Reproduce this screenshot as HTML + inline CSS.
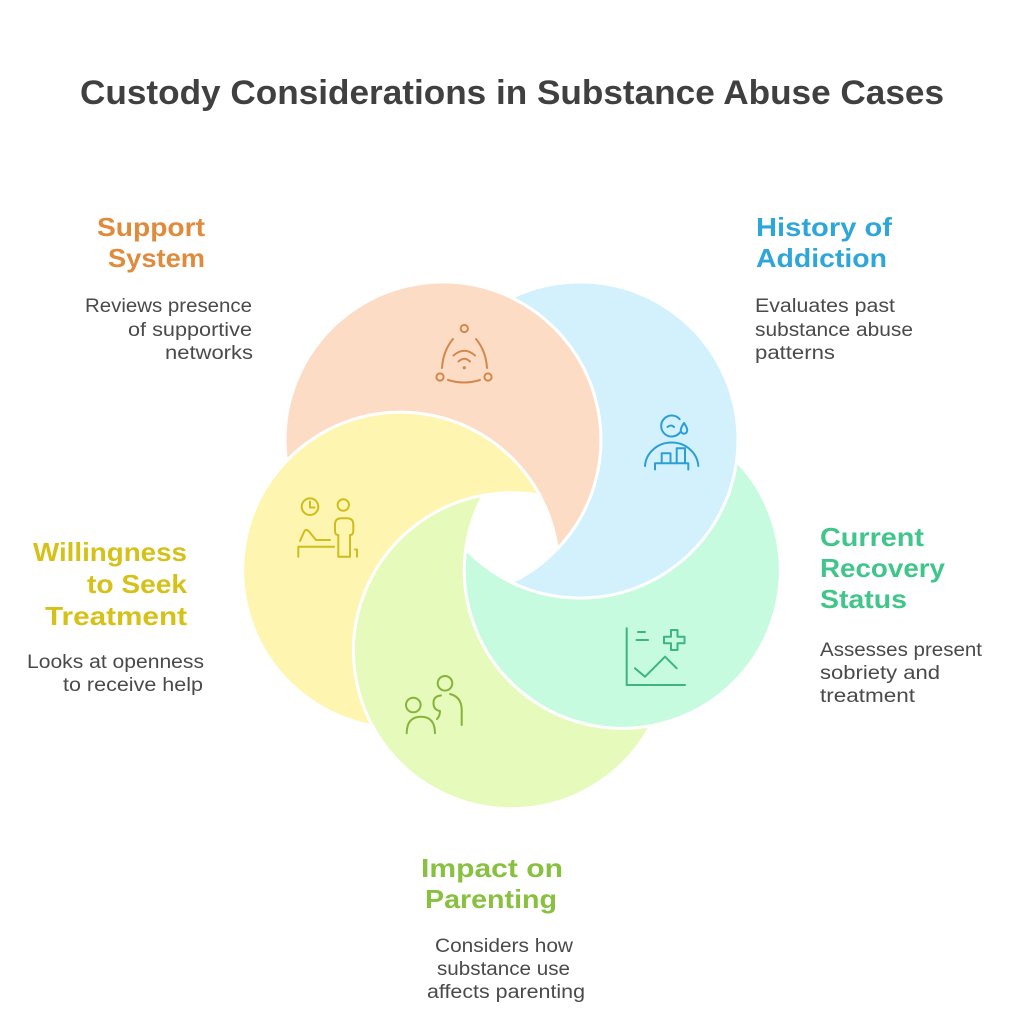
<!DOCTYPE html>
<html>
<head>
<meta charset="utf-8">
<style>
  html,body{margin:0;padding:0;background:#ffffff;}
  svg{display:block;}
  .t{font-family:"Liberation Sans",sans-serif;}
  .h{font-family:"Liberation Sans",sans-serif;font-weight:bold;font-size:26px;}
  .d{font-family:"Liberation Sans",sans-serif;font-size:19px;fill:#4a4a4a;}
  .ic{fill:none;stroke-width:2;stroke-linecap:round;stroke-linejoin:round;}
</style>
</head>
<body>
<svg width="1024" height="1024" viewBox="0 0 1024 1024" xmlns="http://www.w3.org/2000/svg">
  <rect width="1024" height="1024" fill="#ffffff"/>

  <!-- Title -->
  <text class="t" x="80" y="104" font-size="34" font-weight="bold" fill="#404040" textLength="864" lengthAdjust="spacingAndGlyphs">Custody Considerations in Substance Abuse Cases</text>

  <!-- Crescents -->
  <g stroke="#ffffff" stroke-width="3" stroke-linejoin="round">
    <!-- peach -->
    <path fill="#fddcc6" d="M 286.45 461.13 A 158 158 0 1 1 557.27 549.12 A 158 158 0 0 0 286.45 461.13 Z"/>
    <!-- yellow -->
    <path fill="#fef5b1" transform="rotate(-72 511.5 534.25)" d="M 286.45 461.13 A 158 158 0 1 1 557.27 549.12 A 158 158 0 0 0 286.45 461.13 Z"/>
    <!-- lime -->
    <path fill="#e6fabb" transform="rotate(-144 511.5 534.25)" d="M 286.45 461.13 A 158 158 0 1 1 557.27 549.12 A 158 158 0 0 0 286.45 461.13 Z"/>
    <!-- mint -->
    <path fill="#c6fbe0" transform="rotate(-216 511.5 534.25)" d="M 286.45 461.13 A 158 158 0 1 1 557.27 549.12 A 158 158 0 0 0 286.45 461.13 Z"/>
    <!-- blue -->
    <path fill="#d2f1fd" transform="rotate(-288 511.5 534.25)" d="M 286.45 461.13 A 158 158 0 1 1 557.27 549.12 A 158 158 0 0 0 286.45 461.13 Z"/>
  </g>

  <!-- Peach icon: support network -->
  <g class="ic" stroke="#d4874a">
    <circle cx="464.3" cy="328.5" r="3.6"/>
    <circle cx="440" cy="377" r="3.6"/>
    <circle cx="488" cy="377" r="3.6"/>
    <path d="M 453 339 Q 443 351 442 368"/>
    <path d="M 476 339 Q 486 351 487 368"/>
    <path d="M 448 380 Q 464 385 480 380"/>
    <path d="M 458.5 361.5 Q 464.3 356 470 361.5"/>
    <path d="M 453.5 355.5 Q 464.3 346 475 355.5"/>
  </g>
  <circle cx="464.3" cy="367.7" r="1.6" fill="#d4874a"/>

  <!-- Blue icon: history of addiction -->
  <g class="ic" stroke="#2b9fd5">
    <path d="M 679.7 419.25 A 10.5 10.5 0 1 0 680.3 432"/>
    <path d="M 667.5 427 Q 671 424 674 427"/>
    <path d="M 684 423 Q 680.5 428 680.8 430.5 A 3.2 3.2 0 0 0 687.2 430.5 Q 687.5 428 684 423 Z"/>
    <path d="M 645 466 A 26.7 25 0 0 1 698.3 466"/>
    <path d="M 655 469.5 V 463.3 H 688.3 V 469.5"/>
    <path d="M 661.7 463.3 V 453.3 H 670.5 V 463.3"/>
    <path d="M 676.7 463.3 V 448.3 H 685 V 463.3"/>
  </g>

  <!-- Yellow icon: therapy -->
  <g class="ic" stroke="#cfbd1e">
    <circle cx="310" cy="506.7" r="8.3"/>
    <path d="M 310 501.5 V 507.5 H 314.5"/>
    <circle cx="343.3" cy="505" r="5.7"/>
    <path d="M 338.3 556.7 V 535 Q 335 535 335 531 V 524.5 Q 335 518.3 341.5 518.3 H 347 Q 353.3 518.3 353.3 524.5 V 531 Q 353.3 535 350 535 V 556.7 Z"/>
    <path d="M 298.3 556.7 V 546.7 H 334"/>
    <path d="M 355 549.5 H 357 V 556.7"/>
    <path d="M 300 541 L 304 532 Q 306 528 309 531.5 L 316 540 H 330"/>
  </g>

  <!-- Mint icon: recovery chart -->
  <g class="ic" stroke="#3db583">
    <path d="M 626.7 628.3 V 685 H 685"/>
    <path d="M 638 632 H 645"/>
    <path d="M 636.5 640 H 648"/>
    <path d="M 671 630 H 677.5 V 636.7 H 684.5 V 643.3 H 677.5 V 650 H 671 V 643.3 H 664 V 636.7 H 671 Z"/>
    <path d="M 635 668.3 L 645 676.7 L 665 656.7 L 676.7 668.3"/>
  </g>

  <!-- Lime icon: parenting -->
  <g class="ic" stroke="#86b43a">
    <circle cx="445" cy="683.3" r="7.3"/>
    <path d="M 450 694 Q 461.7 697 461.7 710 V 725"/>
    <path d="M 441 695.5 Q 433.5 696 433.5 703 Q 433.5 710 440 711 Q 440 716 437 719"/>
    <circle cx="413.3" cy="705" r="7.3"/>
    <path d="M 406.7 733.3 Q 406.7 716.7 421 716.7 Q 435 716.7 435 733.3"/>
  </g>

  <!-- Support System -->
  <text class="h" fill="#e08a3c" x="97" y="236" textLength="108" lengthAdjust="spacingAndGlyphs">Support</text>
  <text class="h" fill="#e08a3c" x="108" y="267" textLength="97" lengthAdjust="spacingAndGlyphs">System</text>
  <text class="d" x="85" y="312" textLength="167" lengthAdjust="spacingAndGlyphs">Reviews presence</text>
  <text class="d" x="128" y="336" textLength="124" lengthAdjust="spacingAndGlyphs">of supportive</text>
  <text class="d" x="165" y="359" textLength="88" lengthAdjust="spacingAndGlyphs">networks</text>

  <!-- History of Addiction -->
  <text class="h" fill="#2ea6d9" x="756" y="236" textLength="136" lengthAdjust="spacingAndGlyphs">History of</text>
  <text class="h" fill="#2ea6d9" x="756" y="267" textLength="131" lengthAdjust="spacingAndGlyphs">Addiction</text>
  <text class="d" x="755" y="312" textLength="140" lengthAdjust="spacingAndGlyphs">Evaluates past</text>
  <text class="d" x="755" y="336" textLength="158" lengthAdjust="spacingAndGlyphs">substance abuse</text>
  <text class="d" x="755" y="359" textLength="80" lengthAdjust="spacingAndGlyphs">patterns</text>

  <!-- Current Recovery Status -->
  <text class="h" fill="#40c58a" x="820" y="546" textLength="104" lengthAdjust="spacingAndGlyphs">Current</text>
  <text class="h" fill="#40c58a" x="820" y="577" textLength="125" lengthAdjust="spacingAndGlyphs">Recovery</text>
  <text class="h" fill="#40c58a" x="820" y="608" textLength="87" lengthAdjust="spacingAndGlyphs">Status</text>
  <text class="d" x="820" y="656" textLength="162" lengthAdjust="spacingAndGlyphs">Assesses present</text>
  <text class="d" x="820" y="679" textLength="120" lengthAdjust="spacingAndGlyphs">sobriety and</text>
  <text class="d" x="820" y="702" textLength="95" lengthAdjust="spacingAndGlyphs">treatment</text>

  <!-- Willingness to Seek Treatment -->
  <text class="h" fill="#d6c118" x="33" y="561" textLength="154" lengthAdjust="spacingAndGlyphs">Willingness</text>
  <text class="h" fill="#d6c118" x="87" y="593" textLength="100" lengthAdjust="spacingAndGlyphs">to Seek</text>
  <text class="h" fill="#d6c118" x="45" y="625" textLength="142" lengthAdjust="spacingAndGlyphs">Treatment</text>
  <text class="d" x="27" y="668" textLength="177" lengthAdjust="spacingAndGlyphs">Looks at openness</text>
  <text class="d" x="63" y="691" textLength="140" lengthAdjust="spacingAndGlyphs">to receive help</text>

  <!-- Impact on Parenting -->
  <text class="h" fill="#88c040" x="421" y="877" textLength="142" lengthAdjust="spacingAndGlyphs">Impact on</text>
  <text class="h" fill="#88c040" x="425" y="908" textLength="132" lengthAdjust="spacingAndGlyphs">Parenting</text>
  <text class="d" x="435" y="952" textLength="138" lengthAdjust="spacingAndGlyphs">Considers how</text>
  <text class="d" x="437" y="975" textLength="133" lengthAdjust="spacingAndGlyphs">substance use</text>
  <text class="d" x="427" y="998" textLength="158" lengthAdjust="spacingAndGlyphs">affects parenting</text>
</svg>
</body>
</html>
